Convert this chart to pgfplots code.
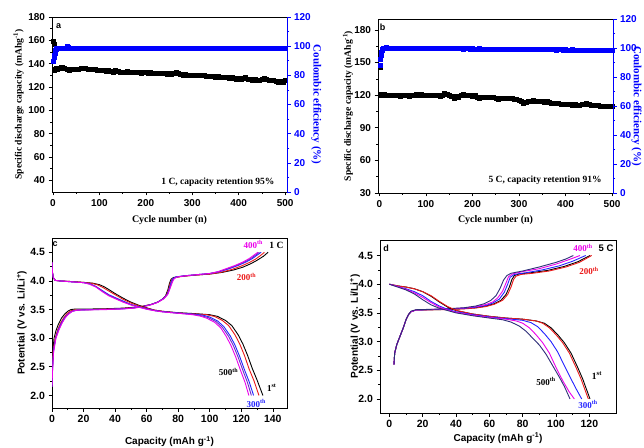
\documentclass[border=0pt]{standalone}
\usepackage{pgfplots}
\pgfplotsset{compat=1.18}
\usepackage{fontspec}
\setmainfont{Liberation Serif}
\setsansfont{Liberation Sans}
\definecolor{cred}{RGB}{235,25,25}
\definecolor{cblue}{RGB}{35,35,255}
\definecolor{cmag}{RGB}{235,0,235}
\definecolor{cviol}{RGB}{110,40,200}
\definecolor{cnavy}{RGB}{45,45,120}
\definecolor{ceblue}{RGB}{0,0,255}
\pgfplotsset{
  base/.style={scale only axis, anchor=south west, tick align=outside,
    major tick length=3.5pt, minor tick length=2pt,
    every tick/.style={line width=0.6pt},
    axis line style={line width=0.7pt},
    /pgf/number format/assume math mode=true,
    ticklabel style={font=\fontsize{10}{11}\sffamily\bfseries},
  },
  cap/.style={only marks, mark=square*, mark size=2pt, black},
  ce/.style={only marks, mark=square*, mark size=2pt, ceblue},
  vc/.style={line width=0.9pt, no marks},
}
\begin{document}
\begin{tikzpicture}
\useasboundingbox (0pt,0pt) rectangle (644pt,447pt);
%================ (a) =================
\begin{axis}[base, at={(52pt,255pt)}, width=235pt, height=175pt,
  xmin=-2, xmax=504, ymin=30, ymax=180,
  xtick={0,100,...,500}, minor x tick num=1,
  ytick={40,60,...,180}, minor y tick num=1,
  xtick pos=bottom, ytick pos=left,
  xlabel={Cycle number (n)}, ylabel={Specific discharge capacity (mAhg\textsuperscript{-1})},
  every axis x label/.style={at={(axis description cs:0.5,-0.16)},anchor=center,font=\fontsize{10}{11}\bfseries},
  every axis y label/.style={at={(axis description cs:-0.142,0.5)},rotate=90,anchor=center,font=\fontsize{9.6}{10}\bfseries},
]
\addplot[cap] coordinates {(1,159)(2,156.5)(3,134)(4,135)(6,135.5)(8,136)(10,135)(12,136.5)(15,136)(18,137)(20,137)(25,136)(30,135)(35,134.5)(40,135)(45,135.5)(50,135)(55,135.5)(60,136)(65,136.5)(70,136)(75,135.5)(80,135)(85,135.5)(90,135)(95,134.5)(100,134)(105,134.5)(110,134)(115,133.5)(120,134)(125,133.5)(130,133)(135,134)(140,133.5)(145,133)(150,132.5)(155,133)(160,133.5)(165,133)(170,132.5)(175,133)(180,133)(185,132.5)(190,132)(195,132.5)(200,132.5)(205,132)(210,132.5)(215,132)(220,131.5)(225,132)(230,131.5)(235,132)(240,131.5)(245,131)(250,131.5)(255,131)(260,131.5)(265,132.5)(270,131.5)(275,131)(280,130.5)(285,131)(290,130.5)(295,130)(300,130.5)(305,130)(310,130.5)(315,130)(320,130.5)(325,130)(330,129.5)(335,129)(340,129.5)(345,129)(350,128.5)(355,129)(360,128.5)(365,128)(370,128.5)(375,128)(380,127.5)(385,128)(390,127.5)(395,127)(400,127.5)(405,127)(410,127.5)(415,128.5)(420,127)(425,126.5)(430,126)(435,126.5)(440,125.5)(445,126)(450,127)(455,127.5)(460,126.5)(465,126)(470,125.5)(475,126)(480,125)(485,124.5)(490,125)(495,124.5)(500,125.5)};
\node[font=\fontsize{9}{10}\sffamily\bfseries] at (axis description cs:0.028,0.945) {a};
\node[font=\fontsize{9.5}{10}\bfseries] at (axis description cs:0.706,0.055) {1 C, capacity retention 95\%};
\end{axis}
\begin{axis}[base, at={(52pt,255pt)}, width=235pt, height=175pt,
  xmin=-2, xmax=504, ymin=0, ymax=120,
  axis x line=none, axis y line*=right,
  ytick={0,20,...,120}, minor y tick num=1,
  y axis line style={ceblue, line width=0.7pt},
  y tick style={ceblue},
  yticklabel style={ceblue},
  ylabel={Coulombic efficiency (\%)},
  every axis y label/.style={at={(axis description cs:1.125,0.5)},rotate=-90,anchor=center,font=\fontsize{11}{12}\bfseries\color{ceblue}},
]
\addplot[ce] coordinates {(1,90)(2,92.5)(3,94)(4,95.5)(5,97)(6,98)(8,98.5)(10,98.6)(15,98.8)(20,98.6)(25,98.9)(30,100)(33,99)(35,98.6)(40,98.7)(45,98.5)(50,98.6)(55,98.8)(60,98.6)(65,98.5)(70,98.7)(75,98.6)(80,98.8)(85,98.5)(90,98.6)(95,98.4)(100,98.6)(105,98.7)(110,98.6)(115,98.5)(120,98.6)(125,98.8)(130,98.6)(135,98.6)(140,98.7)(145,98.5)(150,98.6)(155,98.6)(160,98.7)(165,98.6)(170,98.5)(175,98.6)(180,98.7)(185,98.6)(190,98.5)(195,98.6)(200,98.6)(205,98.7)(210,98.6)(215,98.5)(220,98.6)(225,98.6)(230,98.7)(235,98.6)(240,98.5)(245,98.6)(250,98.6)(255,98.7)(260,98.6)(265,98.5)(270,98.6)(275,98.6)(280,98.5)(285,98.6)(290,98.4)(295,98.5)(300,98.6)(305,98.6)(310,98.5)(315,98.6)(320,98.7)(325,98.6)(330,98.5)(335,98.6)(340,98.6)(345,98.7)(350,98.6)(355,98.5)(360,98.6)(365,98.6)(370,98.7)(375,98.6)(380,98.5)(385,98.6)(390,98.6)(395,98.7)(400,98.6)(405,98.5)(410,98.6)(415,98.6)(420,98.7)(425,98.6)(430,98.5)(435,98.6)(440,98.7)(445,98.6)(450,98.5)(455,98.6)(460,98.6)(465,98.7)(470,98.6)(475,98.5)(480,98.6)(485,98.6)(490,98.7)(495,98.6)(500,98.6)};
\end{axis}
%================ (b) =================
\begin{axis}[base, at={(378pt,254pt)}, width=235pt, height=174pt,
  xmin=-3, xmax=502, ymin=30, ymax=190,
  xtick={0,100,...,500}, minor x tick num=1,
  ytick={30,60,...,180}, minor y tick num=1,
  xtick pos=bottom, ytick pos=left,
  xlabel={Cycle number (n)}, ylabel={Specific discharge capacity (mAhg\textsuperscript{-1})},
  every axis x label/.style={at={(axis description cs:0.5,-0.155)},anchor=center,font=\fontsize{10}{11}\bfseries},
  every axis y label/.style={at={(axis description cs:-0.128,0.5)},rotate=90,anchor=center,font=\fontsize{9.6}{10}\bfseries},
]
\addplot[cap] coordinates {(1,146)(2,121)(3,120)(5,119.5)(8,120)(10,120.5)(15,120)(20,119.5)(25,120)(30,119.5)(35,120)(40,119.5)(45,119)(50,119.5)(55,120)(60,119.5)(65,119)(70,119.5)(75,120)(80,120.5)(85,120)(90,120.5)(95,120)(100,120)(105,119.5)(110,120)(115,119.5)(120,120)(125,119.5)(130,119)(135,120)(140,122)(145,121)(150,120)(155,119)(160,117.5)(165,119)(170,118)(175,120)(180,120.5)(185,120)(190,120)(195,119.5)(200,119)(205,119.5)(210,118.5)(215,117.5)(220,118)(225,118.5)(230,118)(235,118.5)(240,118)(245,118)(250,117.5)(255,116.5)(260,117.5)(265,117)(270,117.5)(275,117)(280,117.5)(285,117)(290,116.5)(295,116)(300,115.5)(305,114)(310,113)(315,113.5)(320,114)(325,114.5)(330,115)(335,114.5)(340,114.5)(345,114)(350,114)(355,113.5)(360,114)(365,113.5)(370,113)(375,113)(380,112.5)(385,112.5)(390,112)(395,112)(400,112)(405,111.5)(410,111.5)(415,111)(420,111.5)(425,111)(430,111)(435,111.5)(440,112)(445,112.5)(450,111.5)(455,111)(460,111)(465,110.5)(470,110.5)(475,110)(480,110)(485,110)(490,109.5)(495,109.5)(500,109.5)};
\node[font=\fontsize{9}{10}\sffamily\bfseries] at (axis description cs:0.02,0.955) {b};
\node[font=\fontsize{9.5}{10}\bfseries] at (axis description cs:0.711,0.075) {5 C, capacity retention 91\%};
\end{axis}
\begin{axis}[base, at={(378pt,254pt)}, width=235pt, height=174pt,
  xmin=-3, xmax=502, ymin=0, ymax=120,
  axis x line=none, axis y line*=right,
  ytick={0,20,...,120}, minor y tick num=1,
  y axis line style={ceblue, line width=0.7pt},
  y tick style={ceblue},
  yticklabel style={ceblue},
  ylabel={Coulombic efficiency (\%)},
  every axis y label/.style={at={(axis description cs:1.1,0.5)},rotate=-90,anchor=center,font=\fontsize{11}{12}\bfseries\color{ceblue}},
]
\addplot[ce] coordinates {(1,88)(2,92)(3,95)(4,97)(5,98.5)(6,99.5)(8,100)(10,100.2)(15,100.3)(20,100.2)(25,100)(30,100.1)(35,99.9)(40,100)(45,100.1)(50,99.9)(55,100)(60,99.8)(65,99.9)(70,100)(75,99.8)(80,99.9)(85,100)(90,99.8)(95,99.9)(100,99.7)(105,99.8)(110,99.9)(115,99.7)(120,99.8)(125,99.7)(130,99.8)(135,99.6)(140,99.7)(145,99.9)(150,99.7)(155,99.6)(160,99.7)(165,99.8)(170,99.6)(175,99.7)(180,99.5)(185,99.6)(190,99.7)(195,99.5)(200,99.6)(205,99.4)(210,99.5)(215,99.6)(220,99.4)(225,99.5)(230,99.4)(235,99.5)(240,99.3)(245,99.4)(250,99.5)(255,99.3)(260,99.4)(265,99.2)(270,99.3)(275,99.4)(280,99.2)(285,99.3)(290,99.1)(295,99.2)(300,99.3)(305,99.1)(310,99.2)(315,99)(320,99.1)(325,99.2)(330,99)(335,99.1)(340,98.9)(345,99)(350,99.1)(355,98.9)(360,99)(365,99.1)(370,98.9)(375,99)(380,98.8)(385,98.9)(390,99)(395,98.8)(400,98.9)(405,98.7)(410,98.8)(415,98.9)(420,98.7)(425,98.8)(430,98.6)(435,98.7)(440,98.8)(445,98.6)(450,98.7)(455,98.8)(460,98.6)(465,98.7)(470,98.5)(475,98.6)(480,98.7)(485,98.5)(490,98.6)(495,98.5)(500,98.6)};
\end{axis}
%================ (c) =================
\begin{axis}[base, at={(52pt,39pt)}, width=235pt, height=170pt,
  xmin=0, xmax=149, ymin=1.78, ymax=4.75,
  xtick={0,20,...,140}, minor x tick num=1,
  ytick={2.0,2.5,...,4.5}, minor y tick num=1,
  xtick pos=bottom, ytick pos=left,
  yticklabel style={/pgf/number format/.cd, fixed, fixed zerofill, precision=1},
  ticklabel style={font=\fontsize{10.5}{11}\sffamily\bfseries},
  xlabel={Capacity (mAh g\textsuperscript{-1})}, ylabel={Potential (V vs. Li/Li\textsuperscript{+})},
  every axis x label/.style={at={(axis description cs:0.5,-0.198)},anchor=center,font=\fontsize{10}{11}\sffamily\bfseries},
  every axis y label/.style={at={(axis description cs:-0.128,0.5)},rotate=90,anchor=center,font=\fontsize{10}{11}\sffamily\bfseries},
]
% charge
\addplot[vc, black] coordinates {(0,2.15)(0.2,2.5)(0.6,2.8)(1.3,3.0)(2.5,3.13)(4,3.24)(6,3.35)(8,3.42)(10,3.47)(12,3.5)(15,3.51)(25,3.51)(35,3.515)(45,3.525)(52,3.54)(58,3.56)(63,3.59)(67,3.63)(70,3.68)(72,3.74)(73.5,3.85)(74.5,3.96)(75.5,4.03)(77,4.06)(82,4.08)(90,4.1)(100,4.12)(108,4.15)(115,4.19)(121,4.24)(126,4.3)(130,4.36)(134,4.43)(137,4.5)};
\addplot[vc, cred] coordinates {(0,2.2)(0.3,2.5)(0.8,2.8)(2,3.0)(3.5,3.14)(5.5,3.27)(7.5,3.36)(9.5,3.43)(12,3.48)(15,3.495)(25,3.5)(35,3.51)(45,3.52)(52,3.535)(58,3.56)(63,3.59)(67,3.63)(70,3.68)(72.5,3.75)(74,3.86)(75,3.97)(76,4.03)(78,4.06)(83,4.08)(90,4.1)(100,4.12)(107,4.15)(114,4.2)(120,4.26)(125,4.32)(129,4.38)(132,4.44)(134.7,4.5)};
\addplot[vc, cblue] coordinates {(0,2.15)(0.3,2.45)(1,2.8)(2.3,3.0)(4,3.15)(6,3.27)(8,3.36)(10,3.42)(12.5,3.47)(16,3.49)(25,3.5)(35,3.505)(45,3.515)(52,3.53)(58,3.555)(63,3.59)(67,3.63)(70.5,3.69)(73,3.76)(74.5,3.88)(75.5,3.98)(76.5,4.04)(78.5,4.07)(84,4.09)(92,4.11)(100,4.13)(106,4.16)(112,4.21)(118,4.27)(123,4.33)(127,4.39)(130,4.45)(132.6,4.5)};
\addplot[vc, cviol] coordinates {(0,2.15)(0.3,2.42)(1,2.78)(2.4,3.0)(4.3,3.15)(6.3,3.27)(8.3,3.36)(10.3,3.42)(12.8,3.47)(16,3.49)(25,3.497)(35,3.503)(45,3.513)(52,3.528)(58,3.553)(63,3.588)(67,3.628)(70.8,3.69)(73.3,3.765)(74.8,3.88)(76,3.985)(77,4.04)(79,4.07)(84,4.09)(92,4.11)(100,4.13)(105.5,4.16)(111,4.21)(117,4.27)(122,4.33)(126,4.39)(129,4.45)(131.5,4.5)};
\addplot[vc, cmag] coordinates {(0,2.15)(0.3,2.4)(1,2.75)(2.5,3.0)(4.5,3.15)(6.5,3.27)(8.5,3.36)(10.5,3.42)(13,3.47)(16,3.49)(25,3.495)(35,3.5)(45,3.51)(52,3.525)(58,3.55)(63,3.585)(67,3.625)(71,3.69)(73.5,3.77)(75,3.88)(76.5,3.99)(77.5,4.04)(79.5,4.07)(85,4.09)(92,4.11)(100,4.13)(105,4.16)(110,4.21)(116,4.27)(121,4.33)(125,4.39)(128,4.45)(130.5,4.5)};
% discharge
\addplot[vc, black] coordinates {(0,4.33)(0.3,4.15)(0.8,4.06)(2,4.01)(5,4.0)(12,3.99)(20,3.975)(26,3.96)(30,3.935)(33,3.9)(36,3.85)(40,3.78)(45,3.7)(50,3.63)(55,3.575)(60,3.53)(65,3.49)(70,3.47)(80,3.445)(90,3.43)(100,3.41)(105,3.38)(110,3.31)(114,3.22)(118,3.06)(121,2.9)(124,2.7)(127,2.47)(130,2.27)(133.7,2.0)};
\addplot[vc, cred] coordinates {(0,4.33)(0.3,4.15)(0.8,4.06)(2,4.01)(5,4.0)(12,3.99)(20,3.975)(25,3.96)(29,3.93)(32,3.89)(35,3.84)(40,3.76)(45,3.68)(50,3.615)(55,3.565)(60,3.525)(65,3.49)(70,3.47)(80,3.44)(90,3.425)(98,3.41)(103,3.38)(108,3.31)(112,3.22)(116,3.06)(119,2.9)(122,2.7)(125,2.46)(128,2.26)(131.2,2.0)};
\addplot[vc, cblue] coordinates {(0,4.33)(0.3,4.15)(0.8,4.06)(2,4.01)(5,4.0)(12,3.985)(20,3.97)(24,3.95)(28,3.9)(32,3.83)(36,3.76)(40,3.71)(45,3.65)(50,3.59)(55,3.55)(60,3.515)(65,3.485)(70,3.465)(80,3.44)(90,3.42)(96,3.4)(100,3.37)(105,3.3)(109,3.2)(113,3.04)(116,2.88)(119,2.68)(122,2.45)(125,2.24)(127.8,2.0)};
\addplot[vc, cviol] coordinates {(0,4.33)(0.3,4.15)(0.8,4.06)(2,4.01)(5,4.0)(12,3.985)(20,3.97)(24,3.95)(28,3.9)(32,3.82)(36,3.75)(40,3.7)(45,3.64)(50,3.585)(55,3.545)(60,3.51)(65,3.48)(70,3.46)(80,3.435)(90,3.415)(95,3.39)(99,3.36)(104,3.29)(108,3.19)(112,3.03)(115,2.87)(118,2.67)(121,2.44)(124,2.22)(126.4,2.0)};
\addplot[vc, cmag] coordinates {(0,4.33)(0.3,4.15)(0.8,4.06)(2,4.01)(5,4.0)(12,3.985)(20,3.97)(24,3.94)(28,3.89)(32,3.81)(36,3.74)(40,3.69)(45,3.63)(50,3.58)(55,3.54)(60,3.505)(65,3.48)(70,3.46)(80,3.435)(89,3.41)(94,3.385)(98,3.35)(103,3.28)(107,3.18)(110.5,3.03)(113.5,2.87)(116.5,2.67)(119.5,2.44)(122.5,2.22)(124.8,2.0)};
\node[font=\fontsize{9}{10}\sffamily\bfseries] at (axis cs:2,4.64) {c};
\node[font=\fontsize{9}{10}\bfseries, text=cmag] at (axis cs:127.7,4.63) {400\textsuperscript{th}};
\node[font=\fontsize{9.5}{10}\bfseries] at (axis cs:142.3,4.62) {1 C};
\node[font=\fontsize{9}{10}\bfseries, text=cred] at (axis cs:123.3,4.07) {200\textsuperscript{th}};
\node[font=\fontsize{9}{10}\bfseries] at (axis cs:111.9,2.41) {500\textsuperscript{th}};
\node[font=\fontsize{9}{10}\bfseries] at (axis cs:139.3,2.13) {1\textsuperscript{st}};
\node[font=\fontsize{9}{10}\bfseries, text=cblue] at (axis cs:129.6,1.86) {300\textsuperscript{th}};
\end{axis}
%================ (d) =================
\begin{axis}[base, at={(380pt,34pt)}, width=236pt, height=173pt,
  xmin=-5.6, xmax=136, ymin=1.755, ymax=4.77,
  xtick={0,20,...,120}, minor x tick num=1,
  ytick={2.0,2.5,...,4.5}, minor y tick num=1,
  xtick pos=bottom, ytick pos=left,
  yticklabel style={/pgf/number format/.cd, fixed, fixed zerofill, precision=1},
  ticklabel style={font=\fontsize{10.5}{11}\sffamily\bfseries},
  xlabel={Capacity (mAh g\textsuperscript{-1})}, ylabel={Potential (V vs. Li/Li\textsuperscript{+})},
  every axis x label/.style={at={(axis description cs:0.5,-0.145)},anchor=center,font=\fontsize{10}{11}\sffamily\bfseries},
  every axis y label/.style={at={(axis description cs:-0.106,0.5)},rotate=90,anchor=center,font=\fontsize{10}{11}\sffamily\bfseries},
]
% charge
\addplot[vc, black] coordinates {(2.8,2.6)(3.2,2.8)(4.5,2.95)(6.5,3.1)(8.5,3.25)(10,3.38)(11.5,3.47)(13,3.52)(16,3.55)(25,3.555)(35,3.56)(45,3.575)(52,3.59)(58,3.62)(63,3.66)(67,3.72)(70,3.82)(72,3.95)(73.5,4.08)(75,4.15)(78,4.18)(85,4.2)(95,4.24)(105,4.31)(113,4.39)(120.5,4.5)};
\addplot[vc, cred] coordinates {(2.8,2.6)(3.2,2.8)(4.5,2.95)(6.5,3.1)(8.5,3.25)(10,3.38)(11.5,3.47)(13,3.52)(16,3.55)(25,3.553)(35,3.557)(45,3.57)(52,3.585)(58,3.61)(63,3.65)(68,3.72)(71,3.82)(73,3.95)(74.5,4.08)(76,4.14)(79,4.17)(86,4.19)(96,4.23)(106,4.3)(114,4.38)(121.4,4.5)};
\addplot[vc, cblue] coordinates {(2.8,2.6)(3.2,2.8)(4.5,2.95)(6.5,3.1)(8.5,3.25)(10,3.38)(11.5,3.47)(13,3.52)(16,3.55)(25,3.557)(35,3.565)(45,3.58)(52,3.6)(58,3.63)(62,3.67)(66,3.74)(69,3.86)(71,4.0)(72.5,4.12)(75,4.17)(82,4.2)(92,4.25)(102,4.32)(110,4.4)(117.8,4.5)};
\addplot[vc, cmag] coordinates {(2.8,2.6)(3.2,2.8)(4.5,2.95)(6.5,3.1)(8.5,3.25)(10,3.38)(11.5,3.47)(13,3.52)(16,3.55)(25,3.56)(35,3.57)(45,3.585)(52,3.61)(58,3.645)(62,3.69)(65,3.76)(68,3.88)(70,4.02)(71.5,4.13)(74,4.18)(80,4.22)(90,4.27)(100,4.35)(108,4.43)(114.4,4.5)};
\addplot[vc, cnavy] coordinates {(2.8,2.6)(3.2,2.8)(4.5,2.95)(6.5,3.1)(8.5,3.25)(10,3.38)(11.5,3.47)(13,3.53)(16,3.555)(25,3.562)(35,3.572)(45,3.59)(52,3.62)(57,3.66)(61,3.72)(64,3.8)(66.5,3.93)(68.5,4.07)(70.5,4.15)(73,4.19)(80,4.23)(90,4.3)(100,4.38)(106,4.44)(110.4,4.5)};
% discharge
\addplot[vc, black] coordinates {(0,4.0)(5,3.97)(10,3.95)(15,3.92)(20,3.87)(25,3.79)(30,3.69)(35,3.6)(40,3.54)(50,3.48)(60,3.44)(70,3.41)(80,3.39)(88,3.36)(93,3.32)(97,3.24)(101,3.12)(105,2.98)(109,2.8)(113,2.55)(116,2.35)(118.5,2.15)(120.4,2.0)};
\addplot[vc, cred] coordinates {(0,4.0)(5,3.97)(10,3.95)(15,3.92)(20,3.87)(25,3.8)(30,3.7)(35,3.61)(40,3.545)(50,3.48)(60,3.44)(70,3.41)(80,3.39)(88,3.36)(92,3.32)(96,3.24)(100,3.12)(104,2.98)(108,2.8)(112,2.55)(115,2.35)(117.5,2.15)(119.4,2.0)};
\addplot[vc, cblue] coordinates {(0,4.0)(5,3.96)(10,3.92)(15,3.87)(20,3.8)(25,3.7)(30,3.62)(35,3.56)(40,3.52)(50,3.47)(60,3.43)(70,3.4)(80,3.37)(85,3.33)(89,3.26)(93,3.14)(97,3.0)(101,2.82)(105,2.58)(109,2.35)(112,2.18)(115.4,2.0)};
\addplot[vc, cmag] coordinates {(0,4.0)(5,3.96)(10,3.91)(15,3.85)(20,3.77)(25,3.68)(30,3.6)(35,3.55)(40,3.51)(50,3.46)(60,3.42)(70,3.39)(76,3.36)(80,3.32)(84,3.24)(88,3.12)(92,2.98)(96,2.8)(100,2.55)(104,2.32)(108,2.12)(111,2.0)};
\addplot[vc, cnavy] coordinates {(0,4.0)(5,3.95)(10,3.9)(15,3.83)(20,3.73)(25,3.64)(30,3.58)(35,3.54)(40,3.5)(50,3.45)(60,3.41)(68,3.38)(73,3.34)(78,3.27)(82,3.18)(86,3.06)(90,2.94)(94,2.78)(98,2.58)(102,2.38)(105,2.22)(108.4,2.0)};
\node[font=\fontsize{9}{10}\sffamily\bfseries] at (axis cs:-2,4.63) {d};
\node[font=\fontsize{9}{10}\bfseries, text=cmag] at (axis cs:116.2,4.63) {400\textsuperscript{th}};
\node[font=\fontsize{9.5}{10}\sffamily\bfseries] at (axis cs:130,4.62) {5 C};
\node[font=\fontsize{9}{10}\bfseries, text=cred] at (axis cs:119.8,4.23) {200\textsuperscript{th}};
\node[font=\fontsize{9}{10}\bfseries] at (axis cs:94,2.31) {500\textsuperscript{th}};
\node[font=\fontsize{9.5}{10}\bfseries] at (axis cs:124.6,2.4) {1\textsuperscript{st}};
\node[font=\fontsize{9}{10}\bfseries, text=cblue] at (axis cs:119.2,1.91) {300\textsuperscript{th}};
\end{axis}
\end{tikzpicture}
\end{document}
